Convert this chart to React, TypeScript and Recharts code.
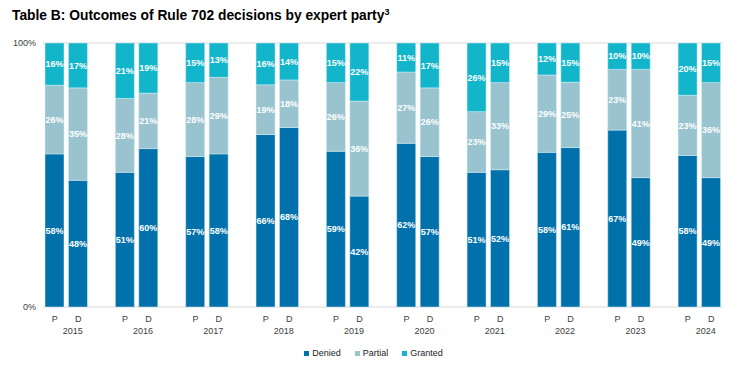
import React from 'react';
import { BarChart, Bar, XAxis, YAxis, CartesianGrid, LabelList } from 'recharts';

const years = ['2015', '2016', '2017', '2018', '2019', '2020', '2021', '2022', '2023', '2024'];
const parties = ['P', 'D'];
// [P, D] values per year
const denied = [[58, 48], [51, 60], [57, 58], [66, 68], [59, 42], [62, 57], [51, 52], [58, 61], [67, 49], [58, 49]];
const partial = [[26, 35], [28, 21], [28, 29], [19, 18], [26, 36], [27, 26], [23, 33], [29, 25], [23, 41], [23, 36]];
const granted = [[16, 17], [21, 19], [15, 13], [16, 14], [15, 22], [11, 17], [26, 15], [12, 15], [10, 10], [20, 15]];

const seriesNames = ['Denied', 'Partial', 'Granted'];
const seriesKeys = ['denied', 'partial', 'granted'];
const seriesColors = ['#0071AB', '#98C3CF', '#13B5CB'];

type Row = { key: string; party: string; year: string; denied?: number; partial?: number; granted?: number };

const rows: Row[] = [];
years.forEach((y, yi) => {
  parties.forEach((p, pi) => {
    rows.push({ key: `${y}-${p}`, party: p, year: y, denied: denied[yi][pi], partial: partial[yi][pi], granted: granted[yi][pi] });
  });
  if (yi < years.length - 1) rows.push({ key: `${y}-gap`, party: '', year: '' });
});

const font = '"Liberation Sans", Arial, sans-serif';

const Tick = (props: any) => {
  const { x, y, index } = props;
  const row = rows[index];
  if (!row || !row.party) return null;
  return (
    <g>
      <text x={x} y={y + 15} textAnchor="middle" fontSize={9} fill="#404040" fontFamily={font}>{row.party}</text>
      {row.party === 'D' && (
        <text x={x - 5.5} y={y + 27} textAnchor="middle" fontSize={9} fill="#404040" fontFamily={font}>{row.year}</text>
      )}
    </g>
  );
};

const fmt = (v: any) => (v === undefined || v === null || v === '' ? '' : `${v}%`);

export default function App() {
  return (
    <div style={{ position: 'absolute', left: 0, top: 0, width: 743, height: 366, background: '#fff', fontFamily: font }}>
      <div style={{ position: 'absolute', left: 12, top: 9, fontSize: 13.8, lineHeight: '14px', fontWeight: 'bold', color: '#000', whiteSpace: 'nowrap' }}>
        Table B: Outcomes of Rule 702 decisions by expert party<span style={{ fontSize: 9, position: 'relative', top: -5 }}>3</span>
      </div>
      <div style={{ position: 'absolute', left: 0, top: 0 }}>
        <BarChart
          width={743}
          height={366}
          data={rows}
          stackOffset="expand"
          margin={{ top: 43, right: 20, bottom: 29, left: 0 }}
          barSize={19}
        >
          <CartesianGrid horizontal vertical={false} stroke="#d9d9d9" />
          <XAxis
            dataKey="key"
            type="category"
            interval={0}
            tick={<Tick />}
            tickLine={false}
            axisLine={false}
            tickSize={0}
            tickMargin={0}
            height={30}
          />
          <YAxis
            type="number"
            domain={[0, 1]}
            ticks={[0, 1]}
            tickFormatter={(v: number) => `${Math.round(v * 100)}%`}
            tick={{ fontSize: 9, fill: '#404040', fontFamily: font }}
            tickLine={false}
            axisLine={false}
            tickSize={0}
            tickMargin={7}
            width={43}
          />
          {seriesKeys.map((k, i) => (
            <Bar key={k} dataKey={k} name={seriesNames[i]} stackId="a" fill={seriesColors[i]} stroke="#d8eef4" strokeWidth={0.5} isAnimationActive={false}>
              <LabelList dataKey={k} position="center" formatter={fmt} fill="#ffffff" fontSize={9} fontWeight="bold" fontFamily={font} />
            </Bar>
          ))}
        </BarChart>
      </div>
      <div style={{ position: 'absolute', left: 2, top: 347, width: 743, display: 'flex', justifyContent: 'center', fontSize: 9, lineHeight: '12px', color: '#222' }}>
        {seriesNames.map((n, i) => (
          <div key={n} style={{ display: 'flex', alignItems: 'center', marginRight: i < 2 ? 14 : 0 }}>
            <span style={{ display: 'inline-block', width: 5, height: 5, background: seriesColors[i], marginRight: 3 }} />
            <span>{n}</span>
          </div>
        ))}
      </div>
    </div>
  );
}
